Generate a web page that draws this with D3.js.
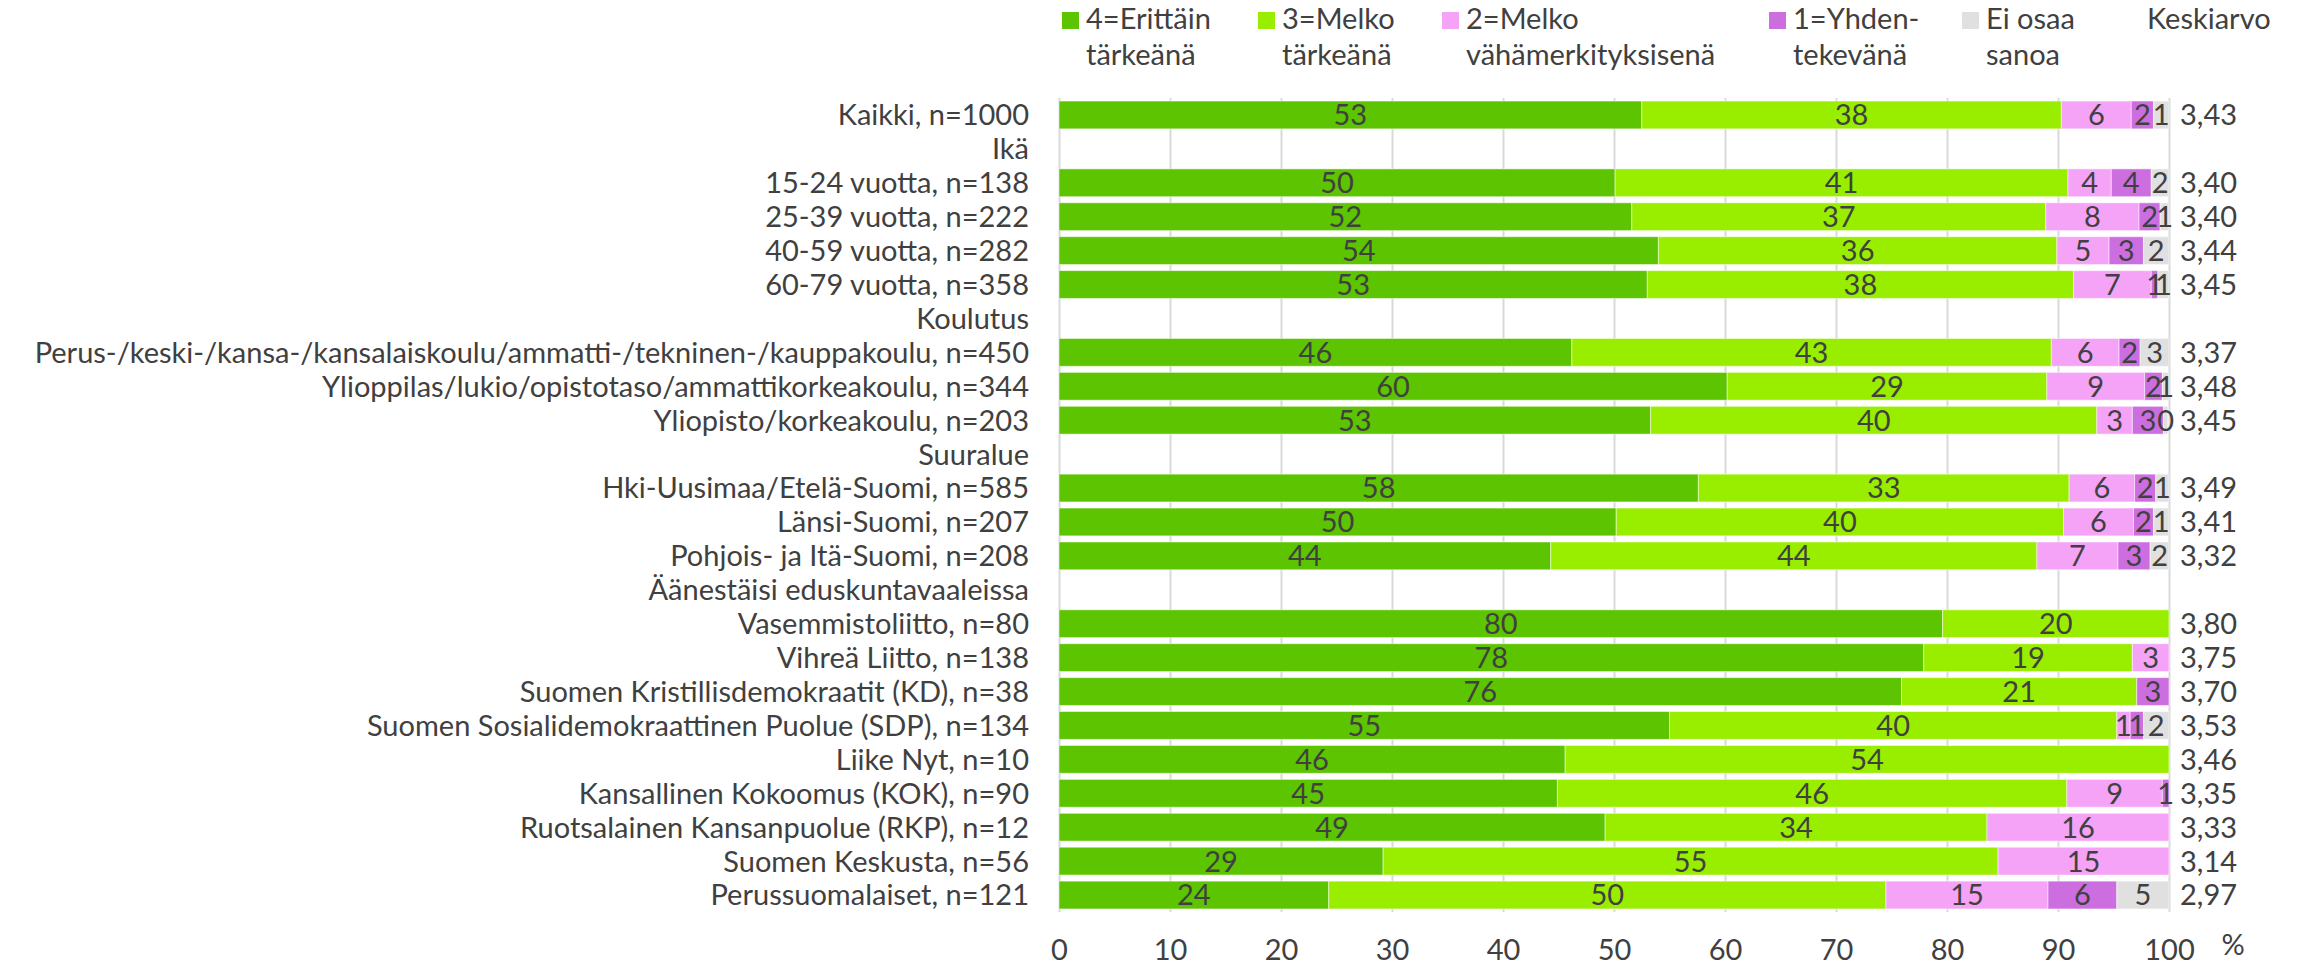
<!DOCTYPE html>
<html>
<head>
<meta charset="utf-8">
<script src="https://cdn.jsdelivr.net/npm/d3@7"></script>
<style>
  body { margin: 0; background: #fff; }
  text { font-family: Lato, "Open Sans", sans-serif; fill: #404040; }
</style>
</head>
<body>
<div id="chart"></div>
<script>
// categories (rows) of the chart, group headers have no bars
var categories = [
  "Kaikki, n=1000",
  "Ikä",
  "15-24 vuotta, n=138",
  "25-39 vuotta, n=222",
  "40-59 vuotta, n=282",
  "60-79 vuotta, n=358",
  "Koulutus",
  "Perus-/keski-/kansa-/kansalaiskoulu/ammatti-/tekninen-/kauppakoulu, n=450",
  "Ylioppilas/lukio/opistotaso/ammattikorkeakoulu, n=344",
  "Yliopisto/korkeakoulu, n=203",
  "Suuralue",
  "Hki-Uusimaa/Etelä-Suomi, n=585",
  "Länsi-Suomi, n=207",
  "Pohjois- ja Itä-Suomi, n=208",
  "Äänestäisi eduskuntavaaleissa",
  "Vasemmistoliitto, n=80",
  "Vihreä Liitto, n=138",
  "Suomen Kristillisdemokraatit (KD), n=38",
  "Suomen Sosialidemokraattinen Puolue (SDP), n=134",
  "Liike Nyt, n=10",
  "Kansallinen Kokoomus (KOK), n=90",
  "Ruotsalainen Kansanpuolue (RKP), n=12",
  "Suomen Keskusta, n=56",
  "Perussuomalaiset, n=121"
];

// series values (%)
var erittain = [52.5, null, 50.1, 51.6, 54.0, 53.0, null, 46.2, 60.2, 53.3, null, 57.6, 50.2, 44.3, null, 79.6, 77.9, 75.9, 55.0, 45.6, 44.9, 49.2, 29.2, 24.3];
var melko = [37.8, null, 40.8, 37.3, 35.9, 38.4, null, 43.2, 28.8, 40.2, null, 33.4, 40.3, 43.8, null, 20.4, 18.8, 21.2, 40.3, 54.4, 45.9, 34.4, 55.4, 50.2];
var vahamerkityksinen = [6.3, null, 3.9, 8.4, 4.7, 7.0, null, 6.1, 8.8, 3.2, null, 5.9, 6.3, 7.3, null, null, 3.3, null, 1.2, null, 8.6, 16.4, 15.4, 14.6];
var yhdentekeva = [2.0, null, 3.6, 1.9, 3.1, 0.6, null, 1.9, 1.6, 2.8, null, 1.9, 1.8, 2.9, null, null, null, 2.9, 1.2, null, 0.6, null, null, 6.2];
var eiOsaa = [1.4, null, 1.6, 0.8, 2.3, 1.0, null, 2.6, 0.6, 0.4, null, 1.2, 1.4, 1.7, null, null, null, null, 2.3, null, null, null, null, 4.7];
var keskiarvo = [3.43, null, 3.40, 3.40, 3.44, 3.45, null, 3.37, 3.48, 3.45, null, 3.49, 3.41, 3.32, null, 3.80, 3.75, 3.70, 3.53, 3.46, 3.35, 3.33, 3.14, 2.97];

var seriesNames = ["4=Erittäin|tärkeänä", "3=Melko|tärkeänä", "2=Melko|vähämerkityksisenä", "1=Yhden-|tekevänä", "Ei osaa|sanoa"];
var xTicks = [0, 10, 20, 30, 40, 50, 60, 70, 80, 90, 100];

var colors = ["#5cc400", "#99ee00", "#f5a3f7", "#cd6ee0", "#e0e0e0"];
var fontSize = 29;

var svgWidth = 2297;
var svgHeight = 965;

var svg = d3.select("#chart")
  .append("svg")
  .attr("width", svgWidth)
  .attr("height", svgHeight)
  .style("background", "#fff");

var xScale = d3.scaleLinear()
  .domain([0, 100])
  .range([1059, 2169]);

var yScale = d3.scaleBand()
  .domain(categories)
  .range([98, 912])
  .paddingInner(0.18)
  .paddingOuter(0.09);

// gridlines + tick labels via axis
var xAxis = d3.axisBottom(xScale)
  .tickValues(xTicks)
  .tickSize(-(912 - 98))
  .tickPadding(27)
  .tickFormat(d3.format("d"));

var axisG = svg.append("g")
  .attr("transform", "translate(0, 912)")
  .call(xAxis);
axisG.select(".domain").remove();
axisG.selectAll("line").attr("stroke", "#d9d9d9").attr("stroke-width", 2);
axisG.selectAll("text")
  .attr("font-size", fontSize)
  .attr("font-family", "Lato")
  .attr("fill", "#404040");

svg.append("text")
  .attr("x", 2233)
  .attr("y", 955)
  .attr("text-anchor", "middle")
  .attr("font-size", fontSize)
  .text("%");

// stack the series
var seriesList = [erittain, melko, vahamerkityksinen, yhdentekeva, eiOsaa];
var rows = categories.map(function(c, i) {
  var start = 0;
  return seriesList.map(function(s, k) {
    var v = s[i];
    var seg = { cat: c, k: k, value: v, x0: start, x1: start + (v || 0) };
    start += (v || 0);
    return seg;
  });
});
var segments = d3.merge(rows).filter(function(d) { return d.value != null; });

var barG = svg.append("g");
barG.selectAll("rect")
  .data(segments)
  .enter()
  .append("rect")
  .attr("x", d => xScale(d.x0))
  .attr("y", d => yScale(d.cat))
  .attr("width", d => xScale(d.x1) - xScale(d.x0))
  .attr("height", yScale.bandwidth())
  .attr("fill", d => colors[d.k])
  .attr("stroke", "#ffffff")
  .attr("stroke-opacity", 0.5)
  .attr("stroke-width", 1);

barG.selectAll("text")
  .data(segments)
  .enter()
  .append("text")
  .attr("x", d => (xScale(d.x0) + xScale(d.x1)) / 2)
  .attr("y", d => yScale(d.cat) + yScale.bandwidth() / 2)
  .attr("dy", "0.36em")
  .attr("text-anchor", "middle")
  .attr("font-size", fontSize)
  .text(d => Math.round(d.value));

// category labels
svg.append("g").selectAll("text")
  .data(categories)
  .enter()
  .append("text")
  .attr("x", 1029)
  .attr("y", d => yScale(d) + yScale.bandwidth() / 2)
  .attr("dy", "0.36em")
  .attr("text-anchor", "end")
  .attr("font-size", fontSize)
  .text(d => d);

// keskiarvo column
var fmt = d3.format(".2f");
svg.append("g").selectAll("text")
  .data(keskiarvo.map((v, i) => ({ v: v, cat: categories[i] })).filter(d => d.v != null))
  .enter()
  .append("text")
  .attr("x", 2180)
  .attr("y", d => yScale(d.cat) + yScale.bandwidth() / 2)
  .attr("dy", "0.36em")
  .attr("font-size", fontSize)
  .text(d => fmt(d.v).replace(".", ","));

// legend
var legendX = [1062, 1258, 1442, 1769, 1962];
var legend = svg.append("g").selectAll("g")
  .data(seriesNames)
  .enter()
  .append("g")
  .attr("transform", (d, i) => `translate(${legendX[i]}, 0)`);

legend.append("rect")
  .attr("x", 0)
  .attr("y", 12)
  .attr("width", 17)
  .attr("height", 17)
  .attr("fill", (d, i) => colors[i]);

legend.each(function(d) {
  var parts = d.split("|");
  var g = d3.select(this);
  parts.forEach(function(p, j) {
    g.append("text")
      .attr("x", 24)
      .attr("y", 29 + j * 36)
      .attr("font-size", fontSize)
      .text(p);
  });
});

svg.append("text")
  .attr("x", 2147)
  .attr("y", 29)
  .attr("font-size", fontSize)
  .text("Keskiarvo");
</script>
</body>
</html>
